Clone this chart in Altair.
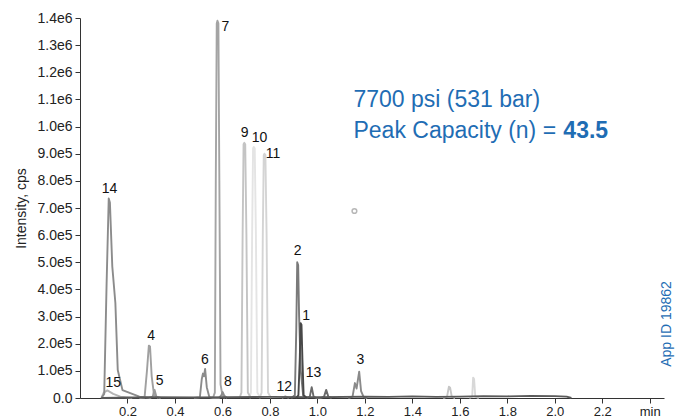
import altair as alt
import pandas as pd

# ---- chromatogram traces (time in min, intensity in cps) ----
trace_names = ["t10", "t11", "t9", "late2", "late1", "t15", "t7", "t4", "t5",
               "t6_8", "t14", "t3", "t2", "t13", "t12", "base", "t1"]
trace_colors = ["#e4e4e4", "#d4d4d4", "#c4c4c4", "#d8d8d8", "#c6c6c6", "#b4b4b4",
                "#a4a4a4", "#a0a0a0", "#9a9a9a", "#8c8c8c", "#8c8c8c", "#8a8a8a",
                "#7a7a7a", "#6a6a6a", "#9a9a9a", "#5a5a5a", "#484848"]

t10_time = [0.712, 0.720, 0.725, 0.729, 0.732, 0.736, 0.741, 0.747, 0.760]
t10_int = [0, 2e4, 6.0e5, 9.2e5, 9.25e5, 9.2e5, 6.0e5, 2e4, 0]
t11_time = [0.757, 0.765, 0.770, 0.774, 0.777, 0.781, 0.786, 0.792, 0.805]
t11_int = [0, 2e4, 6.0e5, 8.95e5, 9.0e5, 8.95e5, 6.0e5, 2e4, 0]
t9_time = [0.672, 0.680, 0.685, 0.689, 0.692, 0.696, 0.701, 0.707, 0.720]
t9_int = [0, 2e4, 6.0e5, 9.35e5, 9.4e5, 9.35e5, 6.0e5, 2e4, 0]
late2_time = [1.640, 1.652, 1.656, 1.660, 1.665, 1.680]
late2_int = [0, 5e3, 7.5e4, 7.0e4, 5e3, 0]
late1_time = [1.530, 1.546, 1.554, 1.559, 1.566, 1.580]
late1_int = [0, 5e3, 4.2e4, 3.8e4, 5e3, 0]
t15_time = [0.090, 0.100, 0.115, 0.140, 0.170, 0.220]
t15_int = [0, 2.0e4, 2.8e4, 1.5e4, 5e3, 0]
t7_time = [0.560, 0.568, 0.572, 0.576, 0.579, 0.583, 0.587, 0.592, 0.600, 0.610]
t7_int = [0, 2e4, 8.0e5, 1.38e6, 1.39e6, 1.38e6, 8.0e5, 5e4, 1e4, 0]
t4_time = [0.250, 0.272, 0.282, 0.290, 0.295, 0.302, 0.312, 0.330]
t4_int = [0, 2e3, 1.0e5, 1.93e5, 1.9e5, 8.0e4, 1e4, 0]
t5_time = [0.290, 0.306, 0.314, 0.322, 0.340]
t5_int = [0, 5e3, 3.0e4, 5e3, 0]
t6_8_time = [0.480, 0.505, 0.513, 0.518, 0.522, 0.527, 0.534, 0.545, 0.560,
             0.585, 0.595, 0.601, 0.608, 0.620]
t6_8_int = [0, 3e3, 7.0e4, 9.0e4, 8.0e4, 1.07e5, 4.0e4, 3e3, 0,
            0, 1.0e4, 2.2e4, 8e3, 0]
t14_time = [0.090, 0.102, 0.112, 0.121, 0.126, 0.136, 0.149, 0.159, 0.179, 0.250, 0.300]
t14_int = [0, 1.5e4, 4.2e5, 7.35e5, 7.2e5, 4.85e5, 3.5e5, 1.03e5, 2.9e4, 5e3, 0]
t3_time = [1.130, 1.148, 1.158, 1.165, 1.176, 1.184, 1.195, 1.210]
t3_int = [0, 5e3, 5.5e4, 3.5e4, 9.7e4, 2.5e4, 3e3, 0]
t2_time = [0.890, 0.905, 0.911, 0.915, 0.919, 0.923, 0.930, 0.940, 0.955]
t2_int = [0, 1e4, 2.5e5, 5.0e5, 4.9e5, 3.0e5, 1.0e5, 1e4, 0]
t13_time = [0.955, 0.968, 0.976, 0.984, 0.995, 1.015, 1.028, 1.037, 1.046, 1.060]
t13_int = [0, 5e3, 4.0e4, 5e3, 0, 0, 5e3, 3.0e4, 5e3, 0]
t12_time = [0.850, 0.865, 0.880]
t12_int = [0, 6e3, 0]
base_time = [0.09, 0.30, 0.50, 0.80, 1.00, 1.20, 1.30, 1.40, 1.50, 1.60, 1.70,
             1.80, 1.90, 2.00, 2.05, 2.07]
base_int = [0, 3e3, 2e3, 4e3, 3e3, 5e3, 4e3, 6e3, 4e3, 5e3, 7e3,
            6e3, 8e3, 7e3, 5e3, 0]
t1_time = [0.910, 0.920, 0.926, 0.929, 0.933, 0.937, 0.942, 0.955]
t1_int = [0, 1e4, 1.5e5, 2.76e5, 2.7e5, 1.4e5, 1e4, 0]

# ---- peak labels ----
label_text = ["14", "15", "4", "5", "6", "8", "7", "9", "10", "11", "2", "1", "12", "13", "3"]
label_time = [0.124, 0.140, 0.300, 0.335, 0.526, 0.623, 0.612, 0.693, 0.756, 0.813,
              0.917, 0.953, 0.860, 0.984, 1.181]
label_int = [7.7e5, 5.5e4, 2.28e5, 6.3e4, 1.4e5, 5.9e4, 1.367e6, 9.76e5, 9.58e5, 8.99e5,
             5.42e5, 3.02e5, 4.05e4, 9.2e4, 1.4e5]

# ---- annotations ----
ann_line1 = "7700 psi (531 bar)"
ann_line2 = "Peak Capacity (n) ="
ann_value = "43.5"
app_id = "App ID 19862"

y_ticks = [i * 1e5 for i in range(15)]
x_ticks = [0.2, 0.4, 0.6, 0.8, 1.0, 1.2, 1.4, 1.6, 1.8, 2.0, 2.2, 2.4]

trace_data = {
    "t10": (t10_time, t10_int), "t11": (t11_time, t11_int), "t9": (t9_time, t9_int),
    "late2": (late2_time, late2_int), "late1": (late1_time, late1_int),
    "t15": (t15_time, t15_int), "t7": (t7_time, t7_int), "t4": (t4_time, t4_int),
    "t5": (t5_time, t5_int), "t6_8": (t6_8_time, t6_8_int), "t14": (t14_time, t14_int),
    "t3": (t3_time, t3_int), "t2": (t2_time, t2_int), "t13": (t13_time, t13_int),
    "t12": (t12_time, t12_int), "base": (base_time, base_int), "t1": (t1_time, t1_int),
}

rows = []
for k, name in enumerate(trace_names):
    ts, vs = trace_data[name]
    for i, (t, v) in enumerate(zip(ts, vs)):
        rows.append({"trace": name, "order": k, "idx": i, "time": t, "intensity": v})
df = pd.DataFrame(rows)

FONT = "Liberation Sans"
BLUE = "#1f6db4"

x_scale = alt.Scale(domain=[0, 2.46], nice=False, zero=False)
y_scale = alt.Scale(domain=[0, 1.4e6], nice=False)

x_axis = alt.Axis(values=x_ticks, title=None, grid=False, labelOverlap=False,
                  tickCount=20,
                  labelExpr="datum.value > 2.3 ? 'min' : format(datum.value, '.1f')",
                  labelFont=FONT, labelFontSize=13, labelColor="#222",
                  tickSize=5, tickColor="#333", domainColor="#333", labelPadding=2)
y_axis = alt.Axis(values=y_ticks, title="Intensity, cps", grid=False,
                  labelOverlap=False, tickCount=20,
                  labelExpr="datum.value == 0 ? '0.0' : replace(format(datum.value, '.1e'), '+', '')",
                  labelFont=FONT, labelFontSize=14, labelColor="#222",
                  titleFont=FONT, titleFontSize=14, titleFontWeight="normal",
                  titleColor="#222", titlePadding=8,
                  tickSize=5, tickColor="#333", domainColor="#333", labelPadding=3)

X = alt.X("time:Q", scale=x_scale, axis=x_axis)
Y = alt.Y("intensity:Q", scale=y_scale, axis=y_axis)

lines = alt.Chart(df).mark_line(strokeWidth=1.9, interpolate="linear",
                                strokeJoin="round").encode(
    x=X, y=Y,
    color=alt.Color("trace:N", scale=alt.Scale(domain=trace_names, range=trace_colors),
                    legend=None),
    order=alt.Order("idx:Q"),
)

labels_df = pd.DataFrame({"label": label_text, "time": label_time, "intensity": label_int})
labels = alt.Chart(labels_df).mark_text(font=FONT, fontSize=14, color="#111",
                                        baseline="middle", align="center").encode(
    x=X, y=Y, text="label:N")

ann_df = pd.DataFrame({"text": [ann_line1, ann_line2], "time": [1.152, 1.152],
                       "intensity": [1.072e6, 9.57e5]})
ann = alt.Chart(ann_df).mark_text(font=FONT, fontSize=23, color=BLUE,
                                  align="left", baseline="alphabetic").encode(
    x=X, y=Y, text="text:N")

val_df = pd.DataFrame({"text": [ann_value], "time": [2.036], "intensity": [9.57e5]})
val = alt.Chart(val_df).mark_text(font=FONT, fontSize=23, fontWeight="bold", color=BLUE,
                                  align="left", baseline="alphabetic").encode(
    x=X, y=Y, text="text:N")

marker_df = pd.DataFrame({"time": [1.156], "intensity": [6.89e5]})
marker = alt.Chart(marker_df).mark_point(shape="circle", size=22, filled=False,
                                         stroke="#9a9a9a", strokeWidth=1.5).encode(
    x=X, y=Y)

appid_df = pd.DataFrame({"text": [app_id]})
appid = alt.Chart(appid_df).mark_text(font=FONT, fontSize=14, color=BLUE, angle=270,
                                      align="center", baseline="middle").encode(
    x=alt.value(587), y=alt.value(306), text="text:N")

chart = alt.layer(lines, labels, ann, val, marker, appid).properties(
    width=584, height=380,
    autosize=alt.AutoSizeParams(type="none"),
    padding={"left": 80, "top": 18, "right": 13, "bottom": 21},
    background="white",
).configure_view(stroke=None)

chart.save("out.html", embed_options={"renderer": "svg", "actions": False})
